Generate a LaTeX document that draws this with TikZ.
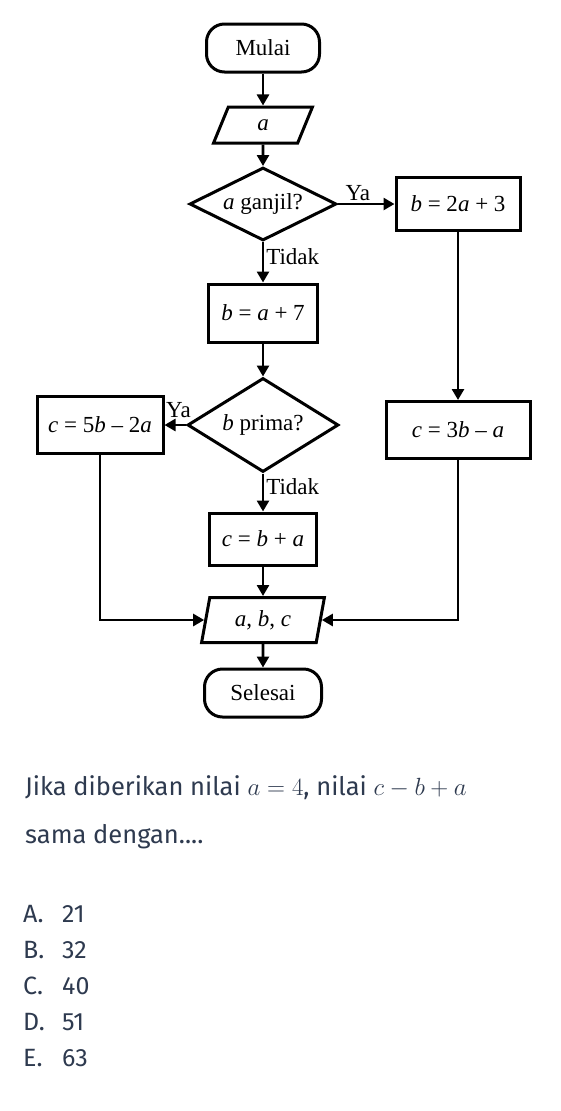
\documentclass[tikz,border=0pt]{standalone}
\usepackage{fontspec}
\usepackage{xcolor}
\usepackage{tikz}
\usetikzlibrary{shapes.geometric,arrows.meta,positioning}
\setmainfont{Liberation Serif}
\newfontfamily\askfont{Fira Sans}
\definecolor{asktext}{RGB}{46,58,79}
\newcommand{\chartfont}{\fontsize{23}{27}\selectfont}
\newcommand{\askmath}[1]{{\fontsize{29}{31}\selectfont$#1$}}

\begin{document}
\begin{tikzpicture}[x=1pt, y=1pt, node distance=77pt, auto]
		% Define styles
		\tikzstyle{terminal} = [rectangle, rounded corners=18pt, draw, line width=3pt, minimum height=48pt, inner sep=0pt, font=\chartfont]
		\tikzstyle{io} = [trapezium, trapezium left angle=77.5, trapezium right angle=102.5, trapezium stretches=true, draw, line width=3pt, inner sep=0pt, font=\chartfont]
		\tikzstyle{decision} = [diamond, aspect=2, draw, line width=3pt, inner sep=0pt, font=\chartfont]
		\tikzstyle{process} = [rectangle, draw, line width=3pt, inner sep=0pt, font=\chartfont]
		\tikzstyle{arrow} = [line width=2.6pt, ->, >={Triangle[length=11pt, width=12pt]}]
		\tikzstyle{answer} = [font=\chartfont, inner sep=2pt]
		\tikzstyle{ask} = [anchor=base west, inner sep=0pt, text=asktext]

		\useasboundingbox (0,0) rectangle (561,-1111);

		% Main column
		\node[terminal, minimum width=113pt] (start) at (263,-48) {Mulai};
		\node[io, minimum width=99pt, minimum height=36pt, node distance=77pt, below of=start] (input) {\textit{a}};
		\node[decision, minimum width=147pt, minimum height=73pt, node distance=79pt, below of=input] (odd) {\textit{a} ganjil?};
		\node[process, minimum width=109pt, minimum height=58pt, node distance=109pt, below of=odd] (bseven) {\textit{b} = \textit{a} + 7};
		\node[decision, minimum width=151pt, minimum height=94pt, node distance=112pt, below of=bseven] (prime) {\textit{b} prima?};
		\node[process, minimum width=107pt, minimum height=52pt, node distance=114pt, below of=prime] (csum) {\textit{c} = \textit{b} + \textit{a}};
		\node[io, minimum width=123pt, minimum height=45pt, node distance=81pt, below of=csum] (output) {\textit{a}, \textit{b}, \textit{c}};
		\node[terminal, minimum width=117pt, node distance=73pt, below of=output] (stop) {Selesai};

		% Side branches
		\node[process, minimum width=124pt, minimum height=53pt, node distance=195pt, right of=odd] (btwo) {\textit{b} = 2\textit{a} + 3};
		\node[process, minimum width=144pt, minimum height=57pt, node distance=226pt, below of=btwo] (cthree) {\textit{c} = 3\textit{b} – \textit{a}};
		\node[process, minimum width=126pt, minimum height=57pt, node distance=163pt, left of=prime] (cfive) {\textit{c} = 5\textit{b} – 2\textit{a}};

		% Arrows
		\draw[arrow] (start) -- (input);
		\draw[arrow] (input) -- (odd);
		\draw[arrow] (odd) -- node[answer, pos=0.35, anchor=west] {Tidak} (bseven);
		\draw[arrow] (odd) -- node[answer, pos=0.35, above] {Ya} (btwo);
		\draw[arrow] (btwo) -- (cthree);
		\draw[arrow] (bseven) -- (prime);
		\draw[arrow] (prime) -- node[answer, pos=0.34, anchor=west] {Tidak} (csum);
		\draw[arrow] (prime) -- node[answer, pos=0.35, above, yshift=4pt] {Ya} (cfive);
		\draw[arrow] (csum) -- (output);
		\draw[arrow] (cfive) |- (output);
		\draw[arrow] (cthree) |- (output);
		\draw[arrow] (output) -- (stop);

		% Question
		\node[ask, font=\askfont\fontsize{25.5}{29}\selectfont] (line1) at (25,-795) {Jika diberikan nilai \askmath{a=4}, nilai \askmath{c-b+a}};
		\node[ask, font=\askfont\fontsize{25.5}{29}\selectfont] (line2) at (25,-843) {sama dengan....};
		\foreach \lab/\val [count=\i] in {A/21,B/32,C/40,D/51,E/63} {
			\node[ask, font=\askfont\fontsize{25}{29}\selectfont] (opt\i) at (23,-922-36.2*\i+36.2) {\lab.};
			\node[ask, font=\askfont\fontsize{25}{29}\selectfont] (val\i) at (62,-922-36.2*\i+36.2) {\val};
		}
	\end{tikzpicture}
\end{document}
